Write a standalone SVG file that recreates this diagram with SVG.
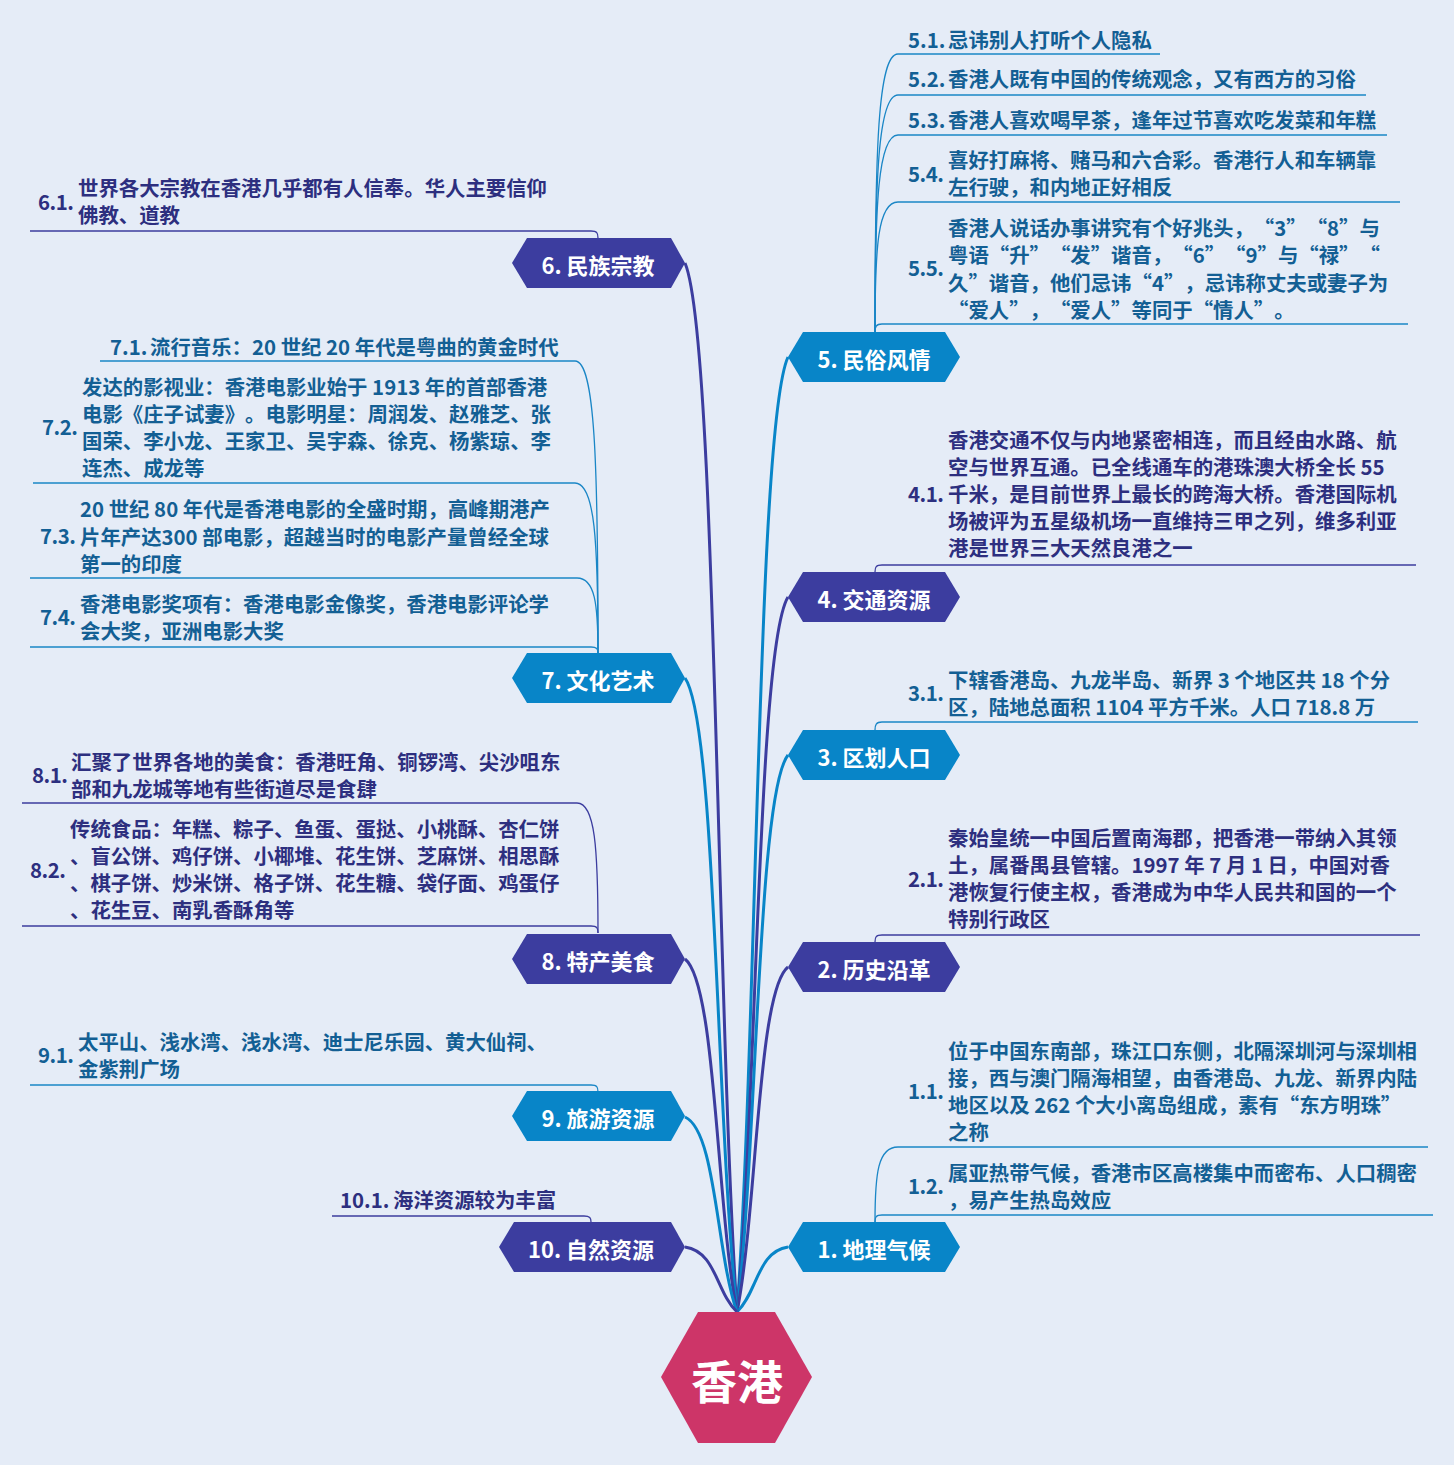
<svg xmlns="http://www.w3.org/2000/svg" width="1454" height="1465" viewBox="0 0 1454 1465">
<style>
.bg{fill:#E5ECF7}
.nb{fill:#0885C8}
.ni{fill:#3C3D9F}
.root{fill:#CD3568}
.cb{fill:none;stroke:#0885C8;stroke-width:3}
.ci{fill:none;stroke:#3C3D9F;stroke-width:3}
.sb{fill:none;stroke:#1A86C6;stroke-width:1.3}
.si{fill:none;stroke:#3C3D9F;stroke-width:1.3}
text{font-family:"Noto Sans CJK SC","Noto Sans",sans-serif;dominant-baseline:central;text-spacing-trim:space-all}
.nl{fill:#FFFFFF;font-size:22px;font-weight:700;text-anchor:middle}
.rt{fill:#FFFFFF;font-size:46px;font-weight:700;text-anchor:middle}
.tb{fill:#135F94;font-size:20.4px;font-weight:700}
.ti{fill:#2D2F7F;font-size:20.4px;font-weight:700}
</style>
<rect class="bg" x="0" y="0" width="1454" height="1465"/>

<g id="connectors">
<path class="cb" d="M737,1312 C757.4,1025.5 757.4,423.9 788,357"/>
<path class="ci" d="M737,1312 C757.4,1097.5 757.4,647 788,597"/>
<path class="cb" d="M737,1312 C757.4,1145 757.4,794 788,755"/>
<path class="ci" d="M737,1312 C757.4,1208.5 757.4,991 788,967"/>
<path class="cb" d="M737,1312 C757.4,1292.5 757.4,1251.5 788,1247"/>
<path class="ci" d="M737,1312 C716.2,997.3 716.2,336.4 685,263"/>
<path class="cb" d="M737,1312 C716.2,1121.8 716.2,722.4 685,678"/>
<path class="ci" d="M737,1312 C716.2,1206 716.2,983.7 685,959"/>
<path class="cb" d="M737,1312 C716.2,1253.5 716.2,1130.7 685,1117"/>
<path class="ci" d="M737,1312 C716.2,1292.5 716.2,1251.5 685,1247"/>

<path class="sb" d="M875,332 C875,148 878,54 898,54 L1160,54"/>
<path class="sb" d="M875,332 C875,178 878,95 898,95 L1366,95"/>
<path class="sb" d="M875,332 C875,204 878,135 898,135 L1387,135"/>
<path class="sb" d="M875,332 C875,245 878,202 898,202 L1400,202"/>
<path class="sb" d="M875,332 C875,327 876,324 882,324 L1408,324"/>
<path class="si" d="M875,572 C875,567 876,565 882,565 L1416,565"/>
<path class="sb" d="M875,730 C875,725 876,722 882,722 L1418,722"/>
<path class="si" d="M875,942 C875,937 876,935 882,935 L1420,935"/>
<path class="sb" d="M875,1222 C875,1173 878,1147 898,1147 L1428,1147"/>
<path class="sb" d="M875,1222 C875,1217 876,1215 882,1215 L1433,1215"/>

<path class="si" d="M598,238 C598,233 597,231 591,231 L30,231"/>
<path class="sb" d="M598,653 C598,463 595,361 575,361 L100,361"/>
<path class="sb" d="M598,653 C598,542 595,483 575,483 L33,483"/>
<path class="sb" d="M598,653 C598,604 595,578 577,578 L30,578"/>
<path class="sb" d="M598,653 C598,649 597,647 591,647 L30,647"/>
<path class="si" d="M598,933 C598,848 595,803 577,803 L22,803"/>
<path class="si" d="M598,933 C598,928 597,926 591,926 L22,926"/>
<path class="sb" d="M598,1092 C598,1087 597,1085 591,1085 L30,1085"/>
<path class="si" d="M591,1222 C591,1218 590,1216 584,1216 L332,1216"/>
</g>

<g id="root">
<polygon class="root" points="698,1312 775,1312 812,1377 775,1443 698,1443 661,1377"/>
<text class="rt" x="737" y="1379">香港</text>
</g>

<g id="n5">
<polygon class="nb" points="788,357 803,332 945,332 960,357 945,382 803,382"/>
<text class="nl" x="874" y="358">5. 民俗风情</text>
</g>
<g id="n4">
<polygon class="ni" points="788,597 803,572 945,572 960,597 945,622 803,622"/>
<text class="nl" x="874" y="598">4. 交通资源</text>
</g>
<g id="n3">
<polygon class="nb" points="788,755 803,730 945,730 960,755 945,780 803,780"/>
<text class="nl" x="874" y="756">3. 区划人口</text>
</g>
<g id="n2">
<polygon class="ni" points="788,967 803,942 945,942 960,967 945,992 803,992"/>
<text class="nl" x="874" y="968">2. 历史沿革</text>
</g>
<g id="n1">
<polygon class="nb" points="788,1247 803,1222 945,1222 960,1247 945,1272 803,1272"/>
<text class="nl" x="874" y="1248">1. 地理气候</text>
</g>
<g id="n6">
<polygon class="ni" points="512,263 527,238 671,238 685,263 671,288 527,288"/>
<text class="nl" x="598" y="264">6. 民族宗教</text>
</g>
<g id="n7">
<polygon class="nb" points="512,678 527,653 671,653 685,678 671,703 527,703"/>
<text class="nl" x="598" y="679">7. 文化艺术</text>
</g>
<g id="n8">
<polygon class="ni" points="512,959 527,934 671,934 685,959 671,984 527,984"/>
<text class="nl" x="598" y="960">8. 特产美食</text>
</g>
<g id="n9">
<polygon class="nb" points="512,1116 527,1091 671,1091 685,1116 671,1141 527,1141"/>
<text class="nl" x="598" y="1117">9. 旅游资源</text>
</g>
<g id="n10">
<polygon class="ni" points="499,1247 514,1222 671,1222 685,1247 671,1272 514,1272"/>
<text class="nl" x="591" y="1248">10. 自然资源</text>
</g>

<g id="s5-1"><text class="tb"><tspan x="908" y="39">5.1.</tspan><tspan x="948" y="39">忌讳别人打听个人隐私</tspan></text></g>
<g id="s5-2"><text class="tb"><tspan x="908" y="78">5.2.</tspan><tspan x="948" y="78">香港人既有中国的传统观念，又有西方的习俗</tspan></text></g>
<g id="s5-3"><text class="tb"><tspan x="908" y="119">5.3.</tspan><tspan x="948" y="119">香港人喜欢喝早茶，逢年过节喜欢吃发菜和年糕</tspan></text></g>
<g id="s5-4"><text class="tb" x="908" y="173" textLength="36">5.4.</text><text class="tb"><tspan x="948" y="159">喜好打麻将、赌马和六合彩。香港行人和车辆靠</tspan><tspan x="948" y="186">左行驶，和内地正好相反</tspan></text></g>
<g id="s5-5"><text class="tb" x="908" y="267" textLength="36">5.5.</text><text class="tb"><tspan x="948" y="227">香港人说话办事讲究有个好兆头，“3”“8”与</tspan><tspan x="948" y="254">粤语“升”“发”谐音，“6”“9”与“禄”“</tspan><tspan x="948" y="282">久”谐音，他们忌讳“4”，忌讳称丈夫或妻子为</tspan><tspan x="948" y="309">“爱人”，“爱人”等同于“情人”。</tspan></text></g>
<g id="s4-1"><text class="ti" x="908" y="493" textLength="36">4.1.</text><text class="ti"><tspan x="948" y="439">香港交通不仅与内地紧密相连，而且经由水路、航</tspan><tspan x="948" y="466">空与世界互通。已全线通车的港珠澳大桥全长 55</tspan><tspan x="948" y="493">千米，是目前世界上最长的跨海大桥。香港国际机</tspan><tspan x="948" y="520">场被评为五星级机场一直维持三甲之列，维多利亚</tspan><tspan x="948" y="547">港是世界三大天然良港之一</tspan></text></g>
<g id="s3-1"><text class="tb" x="908" y="692" textLength="36">3.1.</text><text class="tb"><tspan x="948" y="679">下辖香港岛、九龙半岛、新界 3 个地区共 18 个分</tspan><tspan x="948" y="706">区，陆地总面积 1104 平方千米。人口 718.8 万</tspan></text></g>
<g id="s2-1"><text class="ti" x="908" y="878" textLength="36">2.1.</text><text class="ti"><tspan x="948" y="837">秦始皇统一中国后置南海郡，把香港一带纳入其领</tspan><tspan x="948" y="864">土，属番禺县管辖。1997 年 7 月 1 日，中国对香</tspan><tspan x="948" y="891">港恢复行使主权，香港成为中华人民共和国的一个</tspan><tspan x="948" y="918">特别行政区</tspan></text></g>
<g id="s1-1"><text class="tb" x="908" y="1090" textLength="36">1.1.</text><text class="tb"><tspan x="948" y="1050">位于中国东南部，珠江口东侧，北隔深圳河与深圳相</tspan><tspan x="948" y="1077">接，西与澳门隔海相望，由香港岛、九龙、新界内陆</tspan><tspan x="948" y="1104">地区以及 262 个大小离岛组成，素有“东方明珠”</tspan><tspan x="948" y="1131">之称</tspan></text></g>
<g id="s1-2"><text class="tb" x="908" y="1185" textLength="36">1.2.</text><text class="tb"><tspan x="948" y="1172">属亚热带气候，香港市区高楼集中而密布、人口稠密</tspan><tspan x="948" y="1199">，易产生热岛效应</tspan></text></g>

<g id="s6-1"><text class="ti" x="38" y="201" textLength="36">6.1.</text><text class="ti"><tspan x="78" y="187">世界各大宗教在香港几乎都有人信奉。华人主要信仰</tspan><tspan x="78" y="214">佛教、道教</tspan></text></g>
<g id="s7-1"><text class="tb"><tspan x="110" y="346">7.1.</tspan><tspan x="150" y="346">流行音乐：20 世纪 20 年代是粤曲的黄金时代</tspan></text></g>
<g id="s7-2"><text class="tb" x="42" y="426" textLength="36">7.2.</text><text class="tb"><tspan x="82" y="386">发达的影视业：香港电影业始于 1913 年的首部香港</tspan><tspan x="82" y="413">电影《庄子试妻》。电影明星：周润发、赵雅芝、张</tspan><tspan x="82" y="440">国荣、李小龙、王家卫、吴宇森、徐克、杨紫琼、李</tspan><tspan x="82" y="467">连杰、成龙等</tspan></text></g>
<g id="s7-3"><text class="tb" x="40" y="535" textLength="36">7.3.</text><text class="tb"><tspan x="80" y="508">20 世纪 80 年代是香港电影的全盛时期，高峰期港产</tspan><tspan x="80" y="536">片年产达300 部电影，超越当时的电影产量曾经全球</tspan><tspan x="80" y="563">第一的印度</tspan></text></g>
<g id="s7-4"><text class="tb" x="40" y="616" textLength="36">7.4.</text><text class="tb"><tspan x="80" y="603">香港电影奖项有：香港电影金像奖，香港电影评论学</tspan><tspan x="80" y="630">会大奖，亚洲电影大奖</tspan></text></g>
<g id="s8-1"><text class="ti" x="32" y="774" textLength="36">8.1.</text><text class="ti"><tspan x="71" y="761">汇聚了世界各地的美食：香港旺角、铜锣湾、尖沙咀东</tspan><tspan x="71" y="788">部和九龙城等地有些街道尽是食肆</tspan></text></g>
<g id="s8-2"><text class="ti" x="30" y="869" textLength="36">8.2.</text><text class="ti"><tspan x="70" y="828">传统食品：年糕、粽子、鱼蛋、蛋挞、小桃酥、杏仁饼</tspan><tspan x="70" y="855">、盲公饼、鸡仔饼、小椰堆、花生饼、芝麻饼、相思酥</tspan><tspan x="70" y="882">、棋子饼、炒米饼、格子饼、花生糖、袋仔面、鸡蛋仔</tspan><tspan x="70" y="909">、花生豆、南乳香酥角等</tspan></text></g>
<g id="s9-1"><text class="tb" x="38" y="1054" textLength="36">9.1.</text><text class="tb"><tspan x="78" y="1041">太平山、浅水湾、浅水湾、迪士尼乐园、黄大仙祠、</tspan><tspan x="78" y="1068">金紫荆广场</tspan></text></g>
<g id="s10-1"><text class="ti"><tspan x="340" y="1199">10.1.</tspan><tspan x="393" y="1199">海洋资源较为丰富</tspan></text></g>
</svg>
